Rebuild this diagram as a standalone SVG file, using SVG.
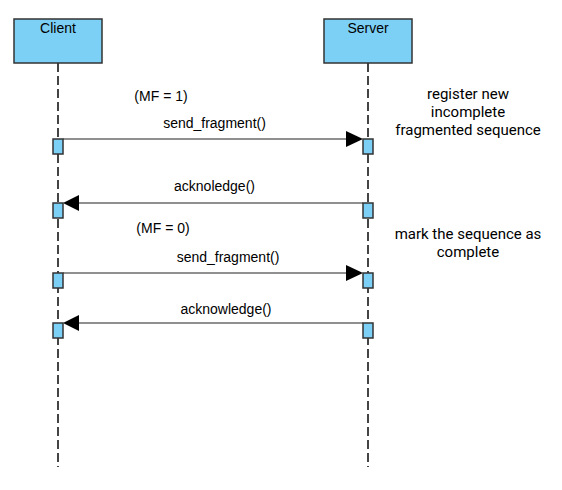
<svg xmlns="http://www.w3.org/2000/svg" width="562" height="490" viewBox="0 0 562 490">
<style>
.head{fill:#7dd0f5;stroke:#333;stroke-width:1.5}
.act{fill:#7dd0f5;stroke:#333;stroke-width:1.5}
.life{stroke:#444;stroke-width:2;stroke-dasharray:9 4;fill:none}
.msg{stroke:#222;stroke-width:1.2;fill:none}
.ah{fill:#000}
.t{font-family:"Liberation Sans",Arial,sans-serif;font-size:14px;fill:#000;text-anchor:middle}
.n{font-family:Roboto,"Open Sans",sans-serif;font-size:15px;fill:#000;text-anchor:middle}
</style>
<rect width="562" height="490" fill="#fff"/>
<g id="client">
<line class="life" x1="58" y1="63" x2="58" y2="467"/>
<rect class="head" x="14" y="19" width="88" height="44"/>
<text class="t" x="58" y="33">Client</text>
</g>
<g id="server">
<line class="life" x1="368" y1="63" x2="368" y2="467"/>
<rect class="head" x="324" y="19" width="88" height="44"/>
<text class="t" x="368" y="33">Server</text>
</g>
<g id="connectors">
<line class="msg" x1="63" y1="139" x2="350" y2="139"/>
<polygon class="ah" points="363,139 346,131 346,147"/>
<line class="msg" x1="363" y1="203" x2="76" y2="203"/>
<polygon class="ah" points="63,203 79,195 79,211"/>
<line class="msg" x1="63" y1="273" x2="350" y2="273"/>
<polygon class="ah" points="363,273 346,265 346,281"/>
<line class="msg" x1="363" y1="323" x2="76" y2="323"/>
<polygon class="ah" points="63,323 79,315 79,331"/>
<text class="t" x="161" y="101">(MF = 1)</text>
<text class="t" x="214.5" y="128">send_fragment()</text>
<text class="t" x="214.5" y="191">acknoledge()</text>
<text class="t" x="163" y="233">(MF = 0)</text>
<text class="t" x="228" y="262">send_fragment()</text>
<text class="t" x="226" y="314">acknowledge()</text>
</g>
<g id="activations">
<rect class="act" x="53" y="139" width="10" height="15"/>
<rect class="act" x="363" y="139" width="10" height="15"/>
<rect class="act" x="53" y="203" width="10" height="15"/>
<rect class="act" x="363" y="203" width="10" height="15"/>
<rect class="act" x="53" y="273" width="10" height="15"/>
<rect class="act" x="363" y="273" width="10" height="15"/>
<rect class="act" x="53" y="323" width="10" height="15"/>
<rect class="act" x="363" y="323" width="10" height="15"/>
</g>
<g id="note1">
<text class="n" x="468" y="98.5"><tspan x="468" y="98.5">register new</tspan><tspan x="468" y="116.5">incomplete</tspan><tspan x="468" y="134.5">fragmented sequence</tspan></text>
</g>
<g id="note2">
<text class="n" x="468" y="238.5"><tspan x="468" y="238.5">mark the sequence as</tspan><tspan x="468" y="256.5">complete</tspan></text>
</g>
</svg>
